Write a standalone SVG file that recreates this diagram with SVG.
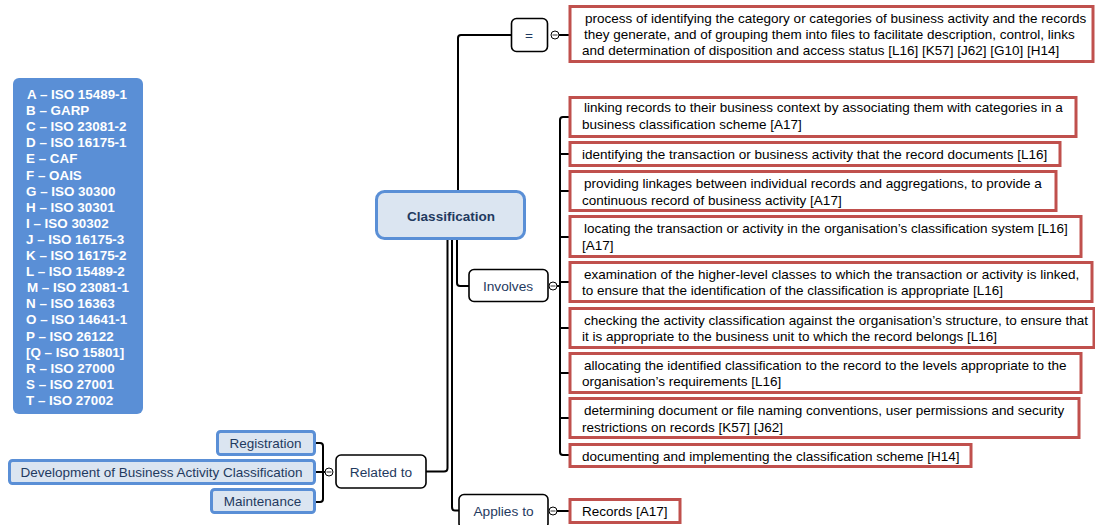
<svg xmlns="http://www.w3.org/2000/svg" width="1095" height="525" viewBox="0 0 1095 525">
  <style>
    text { font-family: "Liberation Sans", Arial, sans-serif; }
    .legend { fill: #5a8fd6; }
    .legend-text { fill: #ffffff; font-size: 13.4px; font-weight: bold; }
    .topic { fill: #dbe5f1; stroke: #5a8fd6; stroke-width: 3; }
    .topic-text { fill: #1f3a60; font-size: 13.5px; }
    .label { fill: #ffffff; stroke: #000000; stroke-width: 1.6; }
    .label-text { fill: #1f3a60; font-size: 13.7px; text-anchor: middle; }
    .note { fill: #ffffff; stroke: #c0504d; stroke-width: 3; }
    .note-text { fill: #000000; font-size: 13.5px; }
    .wire { fill: none; stroke: #000000; stroke-width: 2; }
    .toggle { fill: #ffffff; stroke: #000000; stroke-width: 1; }
  </style>

  <!-- standards legend -->
  <g id="legend">
    <rect class="legend" x="13" y="78" width="130" height="336" rx="6"/>
    <g class="legend-text">
      <text x="27" y="99">A – ISO 15489-1</text>
      <text x="26" y="115.1">B – GARP</text>
      <text x="26" y="131.2">C – ISO 23081-2</text>
      <text x="26" y="147.3">D – ISO 16175-1</text>
      <text x="26" y="163.4">E – CAF</text>
      <text x="26" y="179.5">F – OAIS</text>
      <text x="26" y="195.6">G – ISO 30300</text>
      <text x="26" y="211.7">H – ISO 30301</text>
      <text x="26" y="227.8">I – ISO 30302</text>
      <text x="26" y="243.9">J – ISO 16175-3</text>
      <text x="26" y="260">K – ISO 16175-2</text>
      <text x="26" y="276.1">L – ISO 15489-2</text>
      <text x="27" y="292.2">M – ISO 23081-1</text>
      <text x="26" y="308.3">N – ISO 16363</text>
      <text x="26" y="324.4">O – ISO 14641-1</text>
      <text x="26" y="340.5">P – ISO 26122</text>
      <text x="26" y="356.6">[Q – ISO 15801]</text>
      <text x="26" y="372.7">R – ISO 27000</text>
      <text x="26" y="388.8">S – ISO 27001</text>
      <text x="26" y="404.9">T – ISO 27002</text>
    </g>
  </g>

  <!-- connectors -->
  <g id="connectors">
    <!-- root to "=" -->
    <path class="wire" d="M458 191 V38 Q458 35 461 35 H511"/>
    <line class="wire" x1="559" y1="35" x2="569" y2="35"/>
    <!-- root to "Involves" -->
    <path class="wire" d="M457 239 V283 Q457 286 460 286 H469"/>
    <line class="wire" x1="557" y1="286" x2="561" y2="286"/>
    <!-- root to "Related to" -->
    <path class="wire" d="M447.5 239 V468 Q447.5 471.5 444 471.5 H426"/>
    <!-- root to "Applies to" -->
    <path class="wire" d="M452 239 V507 Q452 510.5 455 510.5 H459"/>
    <line class="wire" x1="557" y1="511" x2="569" y2="511"/>
    <!-- "Involves" spine -->
    <path class="wire" d="M569 117 H563 Q560 117 560 120 V452 Q560 455 563 455 H569"/>
    <line class="wire" x1="560" y1="154" x2="569" y2="154"/>
    <line class="wire" x1="560" y1="191" x2="569" y2="191"/>
    <line class="wire" x1="560" y1="237" x2="569" y2="237"/>
    <line class="wire" x1="560" y1="282" x2="569" y2="282"/>
    <line class="wire" x1="560" y1="328" x2="569" y2="328"/>
    <line class="wire" x1="560" y1="373" x2="569" y2="373"/>
    <line class="wire" x1="560" y1="418" x2="569" y2="418"/>
    <!-- "Related to" bracket -->
    <path class="wire" d="M314 443 H320 Q323 443 323 446 V499 Q323 502 320 502 H314"/>
    <line class="wire" x1="314" y1="472" x2="325" y2="472"/>
    <!-- collapse toggles -->
    <g>
      <circle class="toggle" cx="555" cy="35" r="4"/>
      <line x1="552.5" y1="35" x2="557.5" y2="35" stroke="#000" stroke-width="0.8"/>
      <circle class="toggle" cx="553" cy="286" r="4"/>
      <line x1="550.5" y1="286" x2="555.5" y2="286" stroke="#000" stroke-width="0.8"/>
      <circle class="toggle" cx="553" cy="511" r="4"/>
      <line x1="550.5" y1="511" x2="555.5" y2="511" stroke="#000" stroke-width="0.8"/>
      <circle class="toggle" cx="329" cy="472" r="4"/>
      <line x1="326.5" y1="472" x2="331.5" y2="472" stroke="#000" stroke-width="0.8"/>
    </g>
  </g>

  <!-- central topic -->
  <g id="classification">
    <rect class="topic" x="376.5" y="191.5" width="148" height="47" rx="8"/>
    <text class="topic-text" x="451" y="220.5" text-anchor="middle" font-weight="bold">Classification</text>
  </g>

  <!-- relation labels -->
  <g id="equals">
    <rect class="label" x="511.5" y="18.5" width="36" height="33" rx="5"/>
    <text class="label-text" x="529" y="40">=</text>
  </g>
  <g id="involves">
    <rect class="label" x="469" y="269.5" width="79" height="32" rx="5"/>
    <text class="label-text" x="508" y="291">Involves</text>
  </g>
  <g id="related-to">
    <rect class="label" x="336" y="455" width="90" height="33" rx="5"/>
    <text class="label-text" x="381" y="477">Related to</text>
  </g>
  <g id="applies-to">
    <rect class="label" x="459" y="494.5" width="89" height="34" rx="5"/>
    <text class="label-text" x="503.5" y="515.5">Applies to</text>
  </g>

  <!-- definition -->
  <g id="definition">
    <rect class="note" x="570" y="6.5" width="523" height="55"/>
    <text class="note-text" x="585" y="22.5">process of identifying the category or categories of business activity and the records</text>
    <text class="note-text" x="584" y="38.5">they generate, and of grouping them into files to facilitate description, control, links</text>
    <text class="note-text" x="582" y="54.5">and determination of disposition and access status [L16] [K57] [J62] [G10] [H14]</text>
  </g>

  <!-- activities involved -->
  <g id="activity-1">
    <rect class="note" x="570" y="97.5" width="506" height="39"/>
    <text class="note-text" x="584" y="112">linking records to their business context by associating them with categories in a</text>
    <text class="note-text" x="582" y="128.5">business classification scheme [A17]</text>
  </g>
  <g id="activity-2">
    <rect class="note" x="570" y="142.5" width="490" height="23"/>
    <text class="note-text" x="582" y="159">identifying the transaction or business activity that the record documents [L16]</text>
  </g>
  <g id="activity-3">
    <rect class="note" x="570" y="171.5" width="486" height="39"/>
    <text class="note-text" x="584" y="188">providing linkages between individual records and aggregations, to provide a</text>
    <text class="note-text" x="582" y="204.5">continuous record of business activity [A17]</text>
  </g>
  <g id="activity-4">
    <rect class="note" x="570" y="216.5" width="511" height="40"/>
    <text class="note-text" x="584" y="233">locating the transaction or activity in the organisation’s classification system [L16]</text>
    <text class="note-text" x="582" y="249.5">[A17]</text>
  </g>
  <g id="activity-5">
    <rect class="note" x="570" y="262.5" width="522" height="39"/>
    <text class="note-text" x="584" y="278.5">examination of the higher-level classes to which the transaction or activity is linked,</text>
    <text class="note-text" x="582" y="295">to ensure that the identification of the classification is appropriate [L16]</text>
  </g>
  <g id="activity-6">
    <rect class="note" x="570" y="308.5" width="524" height="39"/>
    <text class="note-text" x="584" y="324.5">checking the activity classification against the organisation’s structure, to ensure that</text>
    <text class="note-text" x="582" y="341">it is appropriate to the business unit to which the record belongs [L16]</text>
  </g>
  <g id="activity-7">
    <rect class="note" x="570" y="353.5" width="511" height="39"/>
    <text class="note-text" x="584" y="369.5">allocating the identified classification to the record to the levels appropriate to the</text>
    <text class="note-text" x="582" y="386">organisation’s requirements [L16]</text>
  </g>
  <g id="activity-8">
    <rect class="note" x="570" y="398.5" width="509" height="39"/>
    <text class="note-text" x="584" y="415">determining document or file naming conventions, user permissions and security</text>
    <text class="note-text" x="582" y="431.5">restrictions on records [K57] [J62]</text>
  </g>
  <g id="activity-9">
    <rect class="note" x="570" y="444.5" width="401" height="22"/>
    <text class="note-text" x="582" y="460.5">documenting and implementing the classification scheme [H14]</text>
  </g>

  <!-- scope -->
  <g id="records">
    <rect class="note" x="570" y="499.5" width="110" height="23"/>
    <text class="note-text" x="582" y="516">Records [A17]</text>
  </g>

  <!-- related processes -->
  <g id="registration">
    <rect class="topic" x="217.5" y="431.5" width="97" height="23" rx="3"/>
    <text class="topic-text" x="265.5" y="447.5" text-anchor="middle">Registration</text>
  </g>
  <g id="development">
    <rect class="topic" x="9.5" y="460.5" width="305" height="23" rx="3"/>
    <text class="topic-text" x="161.5" y="476.5" text-anchor="middle">Development of Business Activity Classification</text>
  </g>
  <g id="maintenance">
    <rect class="topic" x="211.5" y="489.5" width="103" height="23" rx="3"/>
    <text class="topic-text" x="262.5" y="506" text-anchor="middle">Maintenance</text>
  </g>
</svg>
